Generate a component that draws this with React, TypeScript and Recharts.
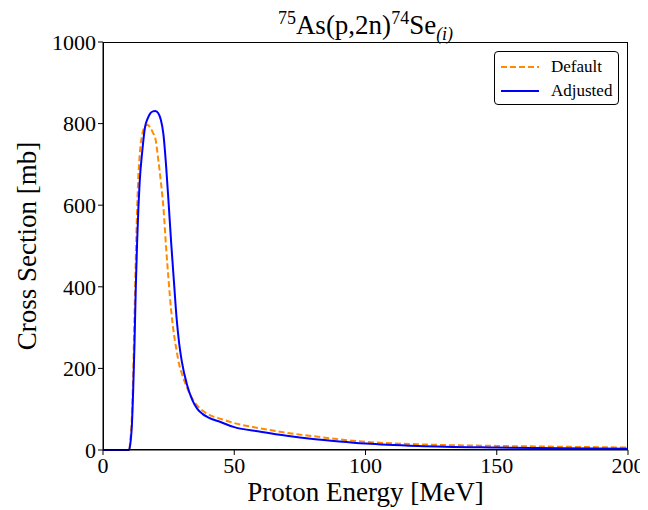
import { Line, LineChart, XAxis, YAxis } from "recharts";

const energies = [0, 9.9, 10.5, 11, 11.5, 12, 12.5, 13, 13.5, 14, 15, 16, 17, 18, 19, 20, 21, 22, 23, 24, 25, 26, 27, 28, 29, 30, 32, 34, 36, 38, 40, 45, 50, 60, 70, 80, 90, 100, 120, 150, 175, 200];
const defaultXs = [0, 0, 30, 80, 185, 330, 470, 590, 675, 725, 775, 793, 797, 790, 778, 762, 715, 660, 596, 500, 415, 340, 285, 245, 210, 188, 153, 126, 108, 96, 88, 76, 66, 53, 42, 34, 26, 20, 14, 10, 8, 6];
const adjustedXs = [0, 0, 20, 60, 147, 260, 400, 510, 596, 660, 735, 791, 812, 825, 830, 831, 826, 810, 775, 700, 605, 505, 415, 326, 262, 218, 160, 123, 100, 88, 80, 68, 56, 45, 35, 27, 21, 16, 10, 6, 4, 3];
const xTicks = [0, 50, 100, 150, 200];
const yTicks = [0, 200, 400, 600, 800, 1000];

const data = energies.map((e, i) => ({ e, def: defaultXs[i], adj: adjustedXs[i] }));

const font = "'Liberation Serif', 'DejaVu Serif', serif";
const tick = { fill: "#000", fontSize: 22, fontFamily: font };

export default function App() {
  return (
    <div style={{ position: "relative", width: 640, height: 502, fontFamily: font }}>
      <LineChart width={640} height={502} data={data} margin={{ top: 34, right: 20, bottom: 30, left: 0 }}>
        <XAxis dataKey="e" type="number" domain={[0, 200]} ticks={xTicks} tick={tick} tickSize={5} stroke="#000" />
        <YAxis type="number" domain={[0, 1000]} ticks={yTicks} tick={tick} tickSize={5} stroke="#000" width={95} />
        <Line dataKey="def" type="monotone" stroke="#ff8c00" strokeWidth={2} strokeDasharray="6 3" dot={false} isAnimationActive={false} />
        <Line dataKey="adj" type="monotone" stroke="#0000ff" strokeWidth={2} dot={false} isAnimationActive={false} />
      </LineChart>
      {/* frame around the plot area */}
      <div style={{ position: "absolute", left: 95, top: 34, width: 525, height: 408, boxSizing: "border-box", border: "1px solid #000", pointerEvents: "none" }} />
      <div style={{ position: "absolute", left: 95, width: 525, top: -5, textAlign: "center", fontSize: 27, lineHeight: "30px" }}>
        <sup style={{ fontSize: 18 }}>75</sup>As(p,2n)<sup style={{ fontSize: 18 }}>74</sup>Se<sub style={{ fontSize: 18 }}><i>(i)</i></sub>
      </div>
      <div style={{ position: "absolute", left: 95, width: 525, top: 469, textAlign: "center", fontSize: 27, lineHeight: "30px" }}>Proton Energy [MeV]</div>
      <div style={{ position: "absolute", left: 19, top: 238, width: 0, height: 0 }}>
        <div style={{ position: "absolute", transform: "translate(-50%, -50%) rotate(-90deg)", whiteSpace: "nowrap", fontSize: 27 }}>Cross Section [mb]</div>
      </div>
      <div style={{ position: "absolute", left: 486, top: 43, width: 123, height: 52, border: "1px solid #000", borderRadius: 4, background: "#fff", fontSize: 17 }}>
        <div style={{ display: "flex", alignItems: "center", height: 24, marginTop: 3 }}>
          <svg width={50} height={10} style={{ marginLeft: 6 }}>
            <line x1={0} y1={5} x2={38} y2={5} stroke="#ff8c00" strokeWidth={2} strokeDasharray="6 3" />
          </svg>
          <span>Default</span>
        </div>
        <div style={{ display: "flex", alignItems: "center", height: 24 }}>
          <svg width={50} height={10} style={{ marginLeft: 6 }}>
            <line x1={0} y1={5} x2={38} y2={5} stroke="#0000ff" strokeWidth={2} />
          </svg>
          <span>Adjusted</span>
        </div>
      </div>
    </div>
  );
}
